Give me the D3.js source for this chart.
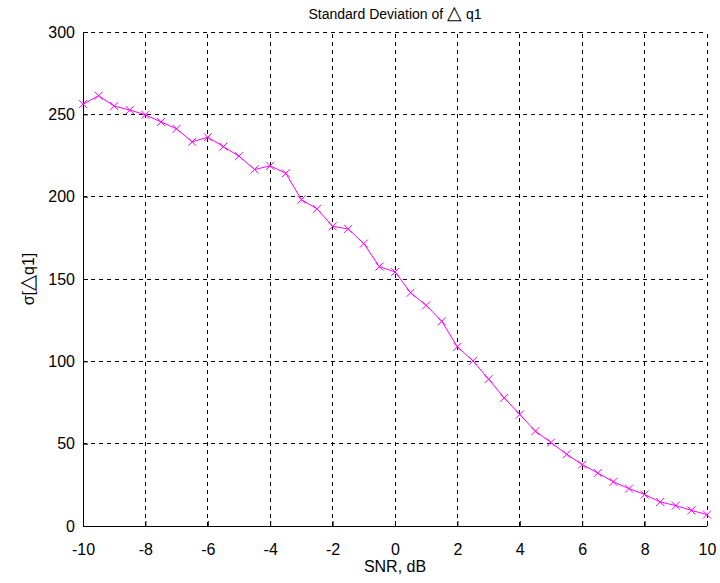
<!DOCTYPE html>
<html>
<head>
<meta charset="utf-8">
<script src="https://cdn.jsdelivr.net/npm/d3@7"></script>
<style>
  body { margin: 0; background: #fff; }
  text { font-family: "Liberation Sans", Arial, sans-serif; fill: #000; }
</style>
</head>
<body>
<script>
// SNR (dB) and measured standard deviation of delta q1
const snr = d3.range(-10, 10.01, 0.5).map(v => +v.toFixed(1));
const sigma = [
  256.2, 261.3, 255.0, 252.6, 249.7, 245.4, 241.2, 233.3, 236.1, 230.4,
  224.6, 216.5, 218.7, 214.2, 198.2, 192.6, 182.0, 180.4, 171.5, 157.5,
  154.3, 141.7, 134.0, 124.3, 108.8, 100.3, 89.2, 77.8, 67.7, 57.6,
  50.7, 43.6, 37.3, 32.2, 26.8, 22.7, 19.1, 14.6, 12.4, 9.5, 6.9
];
const xTicks = [-10, -8, -6, -4, -2, 0, 2, 4, 6, 8, 10];
const yTicks = [0, 50, 100, 150, 200, 250, 300];

const W = 720, H = 583;
const m = { left: 83, right: 13, top: 32, bottom: 57 };

const svg = d3.select("body").append("svg")
  .attr("width", W).attr("height", H);

const x = d3.scaleLinear().domain([-10, 10]).range([m.left, W - m.right]);
const y = d3.scaleLinear().domain([0, 300]).range([H - m.bottom, m.top]);

// grid
let grid = svg.append("g")
  .attr("stroke", "#000").attr("stroke-width", 1)
  .attr("stroke-dasharray", "4,4").attr("shape-rendering", "crispEdges");
grid.selectAll("line.vx").data(xTicks.slice(1)).join("line")
  .attr("x1", d => x(d)).attr("x2", d => x(d))
  .attr("y1", y(0)).attr("y2", y(300));
grid.selectAll("line.hy").data(yTicks.slice(1)).join("line")
  .attr("x1", x(-10)).attr("x2", x(10))
  .attr("y1", d => y(d)).attr("y2", d => y(d));

// axes (ticks pointing inward, matlab style)
svg.append("g")
  .attr("transform", `translate(0,${y(0)})`)
  .call(d3.axisTop(x).tickValues(xTicks).tickSize(5).tickFormat(d => String(d)))
  .call(g => g.selectAll("text").attr("y", 18).attr("dy", "0.71em")
    .style("font-size", "16px"));
svg.append("g")
  .attr("transform", `translate(${x(-10)},0)`)
  .call(d3.axisRight(y).tickValues(yTicks).tickSize(5))
  .call(g => g.selectAll("text").attr("x", -8).attr("text-anchor", "end")
    .style("font-size", "16px"));
svg.selectAll(".domain").remove();
svg.append("path")
  .attr("d", `M${x(-10)},${y(300)}V${y(0)}H${x(10)}`)
  .attr("fill", "none").attr("stroke", "#000").attr("stroke-width", 1)
  .attr("shape-rendering", "crispEdges");

// series
const pts = snr.map((s, i) => [s, sigma[i]]);
svg.append("path")
  .datum(pts)
  .attr("fill", "none").attr("stroke", "#ff00ff").attr("stroke-width", 1)
  .attr("d", d3.line().x(d => x(d[0])).y(d => y(d[1])));
const r = 4;
svg.append("g").selectAll("path").data(pts).join("path")
  .attr("d", d => {
    let px = x(d[0]), py = y(d[1]);
    return `M${px - r},${py - r}L${px + r},${py + r}M${px - r},${py + r}L${px + r},${py - r}`;
  })
  .attr("stroke", "#ff00ff").attr("stroke-width", 1).attr("fill", "none");

// labels
let title = svg.append("text")
  .attr("x", (x(-10) + x(10)) / 2).attr("y", 19)
  .attr("text-anchor", "middle").style("font-size", "14px");
title.append("tspan").text("Standard Deviation of ");
title.append("tspan").style("font-size", "19px").text("\u25B3");
title.append("tspan").text(" q1");

svg.append("text")
  .attr("x", (x(-10) + x(10)) / 2).attr("y", 572)
  .attr("text-anchor", "middle").style("font-size", "16px")
  .text("SNR, dB");
let ylab = svg.append("text")
  .attr("transform", `translate(34,${y(150)}) rotate(-90)`)
  .attr("text-anchor", "middle").style("font-size", "16px");
ylab.append("tspan").text("\u03C3[");
ylab.append("tspan").style("font-size", "21px").text("\u25B3");
ylab.append("tspan").text("q1]");
</script>
</body>
</html>
